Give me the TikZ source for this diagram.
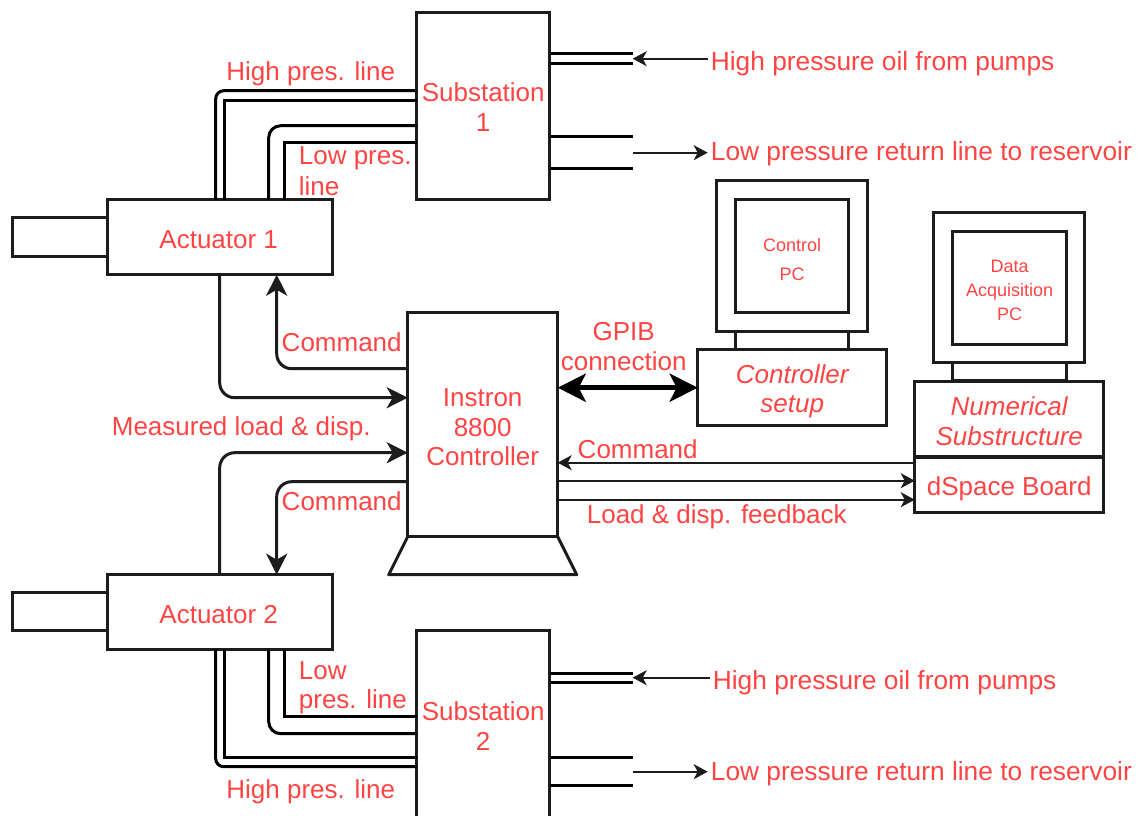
\documentclass[tikz,border=0pt]{standalone}
\usepackage{fontspec}
\setmainfont{Liberation Sans}
\usetikzlibrary{arrows.meta}
\definecolor{ink}{HTML}{1C1C1C}
\definecolor{lab}{HTML}{FF4444}
\newcommand{\rz}[2]{\raisebox{-#1pt}[\height][\depth]{#2}}
\tikzset{
  x=1pt,y=-1pt,
  box/.style={draw=ink,line width=3pt,fill=white,rectangle,inner sep=0pt,outer sep=0pt,text=lab,align=center,
    font=\fontsize{26}{29.5}\selectfont},
  small/.style={font=\fontsize{18}{24}\selectfont},
  smalltall/.style={font=\fontsize{18}{29}\selectfont},
  lbl/.style={text=lab,inner sep=0pt,font=\fontsize{26}{29.5}\selectfont,align=left},
  rlbl/.style={text=lab,inner sep=3pt,anchor=west,font=\fontsize{26.3}{29.5}\selectfont},
  pipe/.style={draw=black,line width=3pt},
  sig/.style={draw=ink,line width=3pt,-{Stealth[length=21pt,width=21pt,inset=6pt]}},
  gpib/.style={draw=black,line width=5pt,{Stealth[length=28pt,width=28pt,inset=7pt]}-{Stealth[length=28pt,width=28pt,inset=7pt]}},
  thinsig/.style={draw=ink,line width=2pt,-{Stealth[length=14pt,width=15pt,inset=4pt]}},
}
\begin{document}
\begin{tikzpicture}
\clip (0,0) rectangle (1141,816);
\fill[white] (0,0) rectangle (1141,816);
\begin{scope}[shift={(-0.3,-0.3)}]
% boxes
\node[box,minimum width=133,minimum height=187] (sub1) at (483.5,106.5) {\rz{1}{Substation}\\\rz{1}{1}};
\node[box,minimum width=225,minimum height=75] (act1) at (220.5,237.5) {\kern-3pt\rz{2.5}{Actuator 1}};
\node[box,minimum width=95,minimum height=39] (rod1) at (60.5,237.5) {};
\node[box,minimum width=150,minimum height=224] (inst) at (483,425) {\rz{2.5}{Instron}\\\rz{2.5}{8800}\\\rz{2.5}{Controller}};
\node[box,minimum width=225,minimum height=75] (act2) at (220.5,612.5) {\kern-3pt\rz{2.5}{Actuator 2}};
\node[box,minimum width=95,minimum height=38] (rod2) at (60.5,612) {};
\node[box,minimum width=133,minimum height=191] (sub2) at (483.5,726.5) {Substation\\2};
\node[box,minimum width=151,minimum height=151] (pc1o) at (792.5,256.5) {};
\node[box,small,smalltall,minimum width=113,minimum height=113] (pc1i) at (792.5,256.5) {\rz{3.5}{Control}\\\rz{3.5}{PC}};
\node[box,minimum width=113,minimum height=18] (neck1) at (792.5,341) {};
\node[box,minimum width=189,minimum height=76] (ctrl) at (792.5,388) {\rz{3.5}{\itshape Controller}\\\rz{3.5}{\itshape setup}};
\node[box,minimum width=151,minimum height=150] (pc2o) at (1009.5,288) {};
\node[box,small,minimum width=114,minimum height=113] (pc2i) at (1010,288.5) {\rz{2.5}{Data}\\\rz{2.5}{Acquisition}\\\rz{2.5}{PC}};
\node[box,minimum width=114,minimum height=18] (neck2) at (1010,372) {};
\node[box,minimum width=189,minimum height=75] (num) at (1009.5,419.5) {\rz{2}{\itshape Numerical}\\\rz{2}{\itshape Substructure}};
\node[box,minimum width=189,minimum height=55] (dsp) at (1009.5,485.5) {\rz{3.5}{dSpace Board}};
% controller base
\draw[draw=ink,line width=3pt,line join=round] (inst.south west) -- (389,575) -- (577,575) -- (inst.south east);
% free ends
\coordinate (e1a) at (633,54); \coordinate (e1b) at (633,64);
\coordinate (e1c) at (633,137); \coordinate (e1d) at (633,169);
\coordinate (e1m) at (633,59); \coordinate (e1n) at (633,153);
\coordinate (e2a) at (633,674); \coordinate (e2b) at (633,683);
\coordinate (e2c) at (633,758); \coordinate (e2d) at (633,786);
\coordinate (e2m) at (633,678); \coordinate (e2n) at (633,772);
% stubs
\foreach \e in {e1a,e1b,e1c,e1d} \draw[pipe] (sub1.east |- \e) -- (\e);
\foreach \e in {e2a,e2b,e2c,e2d} \draw[pipe] (sub2.east |- \e) -- (\e);
% pipes actuator 1
\draw[pipe,rounded corners=8] (sub1.west |- 0,91) -| (act1.north -| 216,0);
\draw[pipe] (sub1.west |- 0,101) -| (act1.north -| 225,0);
\draw[pipe,rounded corners=12] (sub1.west |- 0,126) -| (act1.north -| 269,0);
\draw[pipe] (sub1.west |- 0,143) -| (act1.north -| 285,0);
% pipes actuator 2
\draw[pipe,rounded corners=8] (sub2.west |- 0,767) -| (act2.south -| 216,0);
\draw[pipe] (sub2.west |- 0,758) -| (act2.south -| 225,0);
\draw[pipe,rounded corners=12] (sub2.west |- 0,734) -| (act2.south -| 269,0);
\draw[pipe] (sub2.west |- 0,717) -| (act2.south -| 285,0);
% signals
\draw[sig,rounded corners=15] (act1.south -| 220,0) |- (inst.west |- 0,398);
\draw[sig,rounded corners=15] (inst.west |- 0,369) -| (act1.south -| 277,0);
\draw[sig,rounded corners=15] (act2.north -| 220,0) |- (inst.west |- 0,453);
\draw[sig,rounded corners=15] (inst.west |- 0,482) -| (act2.north -| 277,0);
\draw[gpib] (inst.east |- ctrl.west) -- (ctrl.west);
\draw[thinsig] (dsp.west |- 0,463) -- (inst.east |- 0,463);
\draw[thinsig] (inst.east |- 0,481) -- (dsp.west |- 0,481);
\draw[thinsig] (inst.east |- 0,500) -- (dsp.west |- 0,500);
% labels
\node[lbl] (l1) at (311,74.5) {High pres. line};
\node[lbl,anchor=west] (l2) at (299,159) {Low pres.};
\node[lbl,anchor=west] (l3) at (299,187) {line};
\node[lbl] (l4) at (342,342.5) {Command};
\node[lbl] (l5) at (342,501.5) {Command};
\node[lbl] (l6) at (241.5,429) {Measured load \& disp.};
\node[lbl,anchor=west] (l7) at (299,670.5) {Low};
\node[lbl,anchor=west] (l8) at (299,702.5) {pres. line};
\node[lbl] (l9) at (311,792.5) {High pres. line};
\node[lbl] (l10) at (624,331.5) {GPIB};
\node[lbl] (l11) at (624,361.5) {connection};
\node[lbl] (l12) at (638,449.5) {Command};
\node[lbl] (l13) at (717,517.5) {Load \& disp. feedback};
\node[rlbl] (r1) at (708,64) {High pressure oil from pumps};
\node[rlbl] (r2) at (708,154) {Low pressure return line to reservoir};
\node[rlbl] (r3) at (710,683) {High pressure oil from pumps};
\node[rlbl] (r4) at (708,774) {Low pressure return line to reservoir};
% feed arrows
\draw[thinsig] (r1.west |- e1m) -- (e1m);
\draw[thinsig] (e1n) -- (r2.west |- e1n);
\draw[thinsig] (r3.west |- e2m) -- (e2m);
\draw[thinsig] (e2n) -- (r4.west |- e2n);
\end{scope}
\end{tikzpicture}
\end{document}
